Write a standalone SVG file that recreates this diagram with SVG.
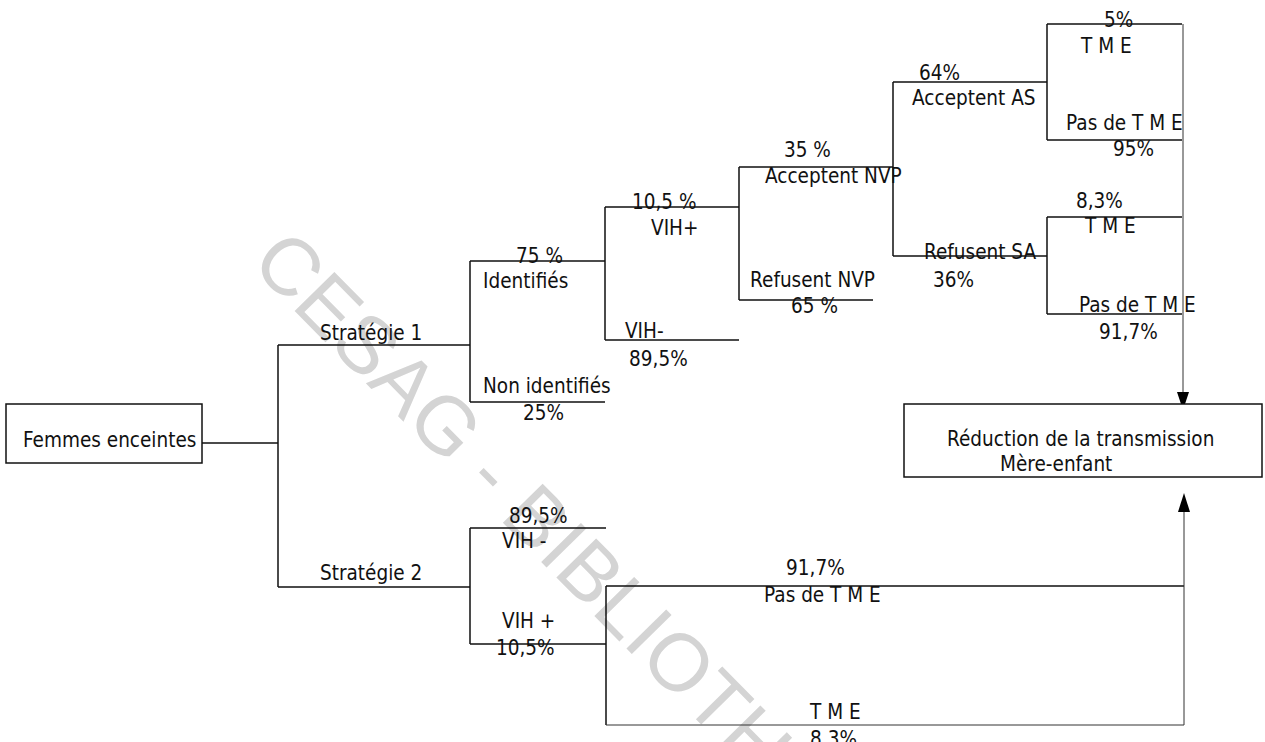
<svg xmlns="http://www.w3.org/2000/svg" width="1265" height="742" viewBox="0 0 1265 742">
<defs>
<style>
text{font-family:"DejaVu Sans","Verdana",sans-serif;font-size:21px;fill:#111}
text.wm{font-family:"Liberation Sans",Arial,sans-serif;font-size:81px;fill:#d4d4d4}
.ln{stroke:#111;stroke-width:1.5;fill:none}
.th{stroke:#333;stroke-width:1;fill:none}
.box{stroke:#111;stroke-width:1.5;fill:#fff}
</style>
</defs>
<rect width="1265" height="742" fill="#fff"/>
<text class="wm" transform="translate(249,264.5) rotate(45.5)">CESAG - BIBLIOTH</text>

<g id="connectors">
<path class="ln" d="M202,443 H278 M278,345 V587 M278,345 H470 M278,587 H470"/>
<path class="ln" d="M470,261 V402 M470,261 H605 M470,402 H605"/>
<path class="ln" d="M605,207 V340 M605,207 H739 M605,340 H739"/>
<path class="ln" d="M739,167 V300 M739,167 H893 M739,300 H873"/>
<path class="ln" d="M893,82 V256 M893,82 H1047 M893,256 H1047"/>
<path class="ln" d="M1047,24 V140 M1047,24 H1182 M1047,140 H1182"/>
<path class="ln" d="M1047,217 V314 M1047,217 H1182 M1047,314 H1182"/>
<path class="th" d="M1183,24 V392"/>
<path d="M1177,392 L1189,392 L1183,410 z" fill="#000"/>
<path class="ln" d="M470,528 V644 M470,528 H606 M470,644 H606"/>
<path class="ln" d="M606,586 V725 M606,586 H1184"/>
<path class="th" d="M606,725 H1184 V586 V512"/>
<path d="M1178,512 L1190,512 L1184,493 z" fill="#000"/>
</g>

<g id="n-femmes">
<rect class="box" x="6" y="404" width="196" height="59"/>
<text transform="scale(0.88,1)" x="26.1" y="447">Femmes enceintes</text>
</g>
<g id="n-strat1"><text transform="scale(0.88,1)" x="363.6" y="340">Stratégie 1</text></g>
<g id="n-strat2"><text transform="scale(0.88,1)" x="363.6" y="580">Stratégie 2</text></g>
<g id="n-identifies">
<text transform="scale(0.88,1)" x="586.4" y="263">75 %</text>
<text transform="scale(0.88,1)" x="548.9" y="288">Identifiés</text>
</g>
<g id="n-nonidentifies">
<text transform="scale(0.88,1)" x="548.9" y="393">Non identifiés</text>
<text transform="scale(0.88,1)" x="594.3" y="420">25%</text>
</g>
<g id="n-vihpos">
<text transform="scale(0.88,1)" x="718.2" y="209">10,5 %</text>
<text transform="scale(0.88,1)" x="739.8" y="235">VIH+</text>
</g>
<g id="n-vihneg">
<text transform="scale(0.88,1)" x="710.2" y="338">VIH-</text>
<text transform="scale(0.88,1)" x="714.8" y="366">89,5%</text>
</g>
<g id="n-acceptnvp">
<text transform="scale(0.88,1)" x="890.9" y="157">35 %</text>
<text transform="scale(0.88,1)" x="869.3" y="183">Acceptent NVP</text>
</g>
<g id="n-refusnvp">
<text transform="scale(0.88,1)" x="852.3" y="287">Refusent NVP</text>
<text transform="scale(0.88,1)" x="898.9" y="313">65 %</text>
</g>
<g id="n-acceptas">
<text transform="scale(0.88,1)" x="1044.3" y="80">64%</text>
<text transform="scale(0.88,1)" x="1036.4" y="105">Acceptent AS</text>
</g>
<g id="n-refussa">
<text transform="scale(0.88,1)" x="1050" y="259">Refusent SA</text>
<text transform="scale(0.88,1)" x="1060.2" y="287">36%</text>
</g>
<g id="n-as-tme">
<text transform="scale(0.88,1)" x="1254.5" y="27">5%</text>
<text transform="scale(0.88,1)" x="1228.4" y="53">T M E</text>
</g>
<g id="n-as-pastme">
<text transform="scale(0.88,1)" x="1211.4" y="130">Pas de T M E</text>
<text transform="scale(0.88,1)" x="1264.8" y="156">95%</text>
</g>
<g id="n-sa-tme">
<text transform="scale(0.88,1)" x="1222.7" y="208">8,3%</text>
<text transform="scale(0.88,1)" x="1233" y="233">T M E</text>
</g>
<g id="n-sa-pastme">
<text transform="scale(0.88,1)" x="1226.1" y="312">Pas de T M E</text>
<text transform="scale(0.88,1)" x="1248.9" y="339">91,7%</text>
</g>
<g id="n-reduction">
<rect class="box" x="904" y="404" width="358" height="73"/>
<text transform="scale(0.88,1)" x="1076.1" y="446">Réduction de la transmission</text>
<text transform="scale(0.88,1)" x="1136.4" y="471">Mère-enfant</text>
</g>
<g id="n-s2-vihneg">
<text transform="scale(0.88,1)" x="578.4" y="523">89,5%</text>
<text transform="scale(0.88,1)" x="570.5" y="548">VIH -</text>
</g>
<g id="n-s2-vihpos">
<text transform="scale(0.88,1)" x="570.5" y="628">VIH +</text>
<text transform="scale(0.88,1)" x="563.6" y="655">10,5%</text>
</g>
<g id="n-s2-pastme">
<text transform="scale(0.88,1)" x="893.2" y="575">91,7%</text>
<text transform="scale(0.88,1)" x="868.2" y="602">Pas de T M E</text>
</g>
<g id="n-s2-tme">
<text transform="scale(0.88,1)" x="920.5" y="719">T M E</text>
<text transform="scale(0.88,1)" x="920.5" y="746">8,3%</text>
</g>
</svg>
